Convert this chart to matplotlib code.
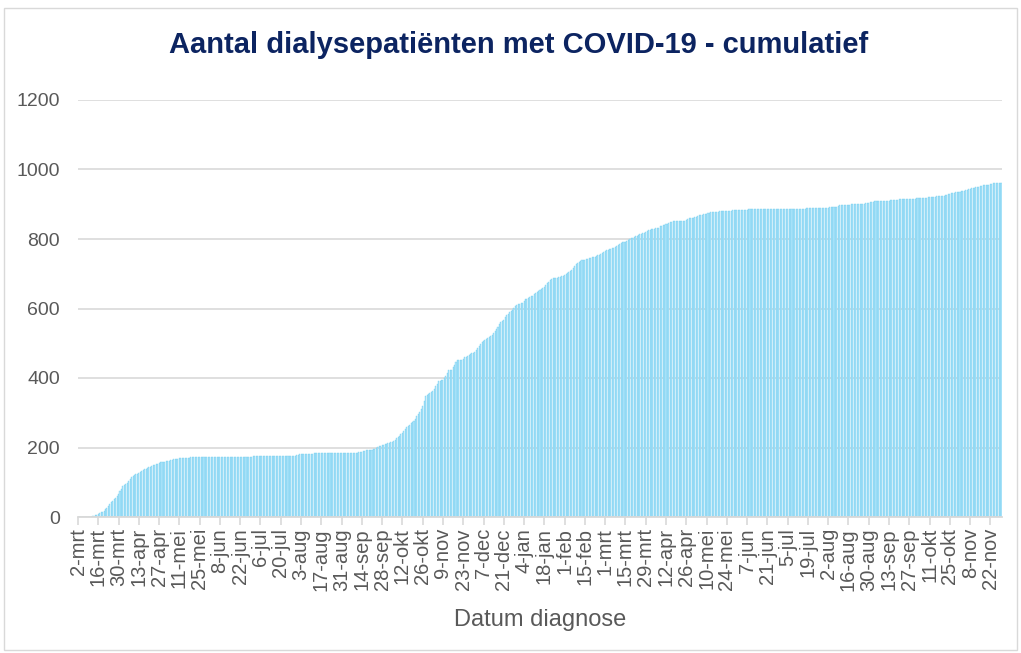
import matplotlib
matplotlib.use("Agg")
import matplotlib.pyplot as plt
import numpy as np
from matplotlib.patches import Rectangle

plt.rcParams['font.family'] = ['Liberation Sans', 'DejaVu Sans']

title = "Aantal dialysepatiënten met COVID-19 - cumulatief"
x_title = "Datum diagnose"
start_date = "2020-03-02"

# cumulative number of patients per day (2-mrt-2020 .. 30-nov-2021), one row per 14 days
cumulative = [
    0, 0, 0, 0, 0, 0, 1, 1, 1, 1, 2, 3, 5, 7,
    9, 11, 13, 15, 18, 22, 27, 32, 37, 42, 46, 51, 56, 61,
    66, 74, 81, 89, 93, 96, 99, 104, 109, 114, 119, 121, 123, 125,
    127, 130, 132, 135, 137, 139, 141, 143, 145, 147, 149, 150, 152, 153,
    155, 157, 158, 159, 159, 160, 161, 162, 163, 164, 166, 167, 168, 168,
    169, 169, 170, 170, 170, 171, 171, 171, 172, 172, 172, 173, 173, 173,
    174, 174, 174, 174, 174, 174, 174, 174, 174, 174, 174, 174, 174, 174,
    174, 174, 174, 174, 174, 174, 174, 174, 174, 174, 174, 174, 174, 174,
    174, 174, 174, 174, 174, 174, 174, 174, 174, 175, 175, 175, 175, 175,
    175, 175, 175, 175, 175, 175, 175, 175, 175, 175, 175, 175, 175, 175,
    175, 175, 175, 175, 175, 175, 175, 175, 175, 175, 176, 177, 179, 180,
    180, 180, 181, 181, 181, 182, 182, 182, 182, 183, 183, 183, 183, 183,
    183, 183, 183, 183, 183, 183, 183, 184, 184, 184, 184, 184, 184, 184,
    184, 184, 184, 184, 184, 185, 185, 185, 185, 185, 185, 185, 186, 186,
    188, 190, 191, 192, 193, 193, 193, 194, 195, 197, 199, 201, 203, 205,
    206, 208, 209, 210, 212, 213, 215, 217, 220, 222, 226, 229, 234, 238,
    242, 248, 254, 260, 263, 266, 270, 274, 277, 283, 290, 296, 303, 310,
    318, 333, 347, 351, 355, 358, 360, 362, 369, 376, 383, 390, 392, 394,
    395, 401, 407, 415, 422, 423, 424, 431, 438, 445, 451, 452, 453, 453,
    456, 459, 461, 464, 467, 469, 471, 472, 476, 482, 486, 491, 497, 503,
    506, 509, 511, 515, 518, 521, 525, 530, 536, 541, 548, 554, 560, 565,
    568, 575, 580, 585, 589, 593, 597, 602, 606, 609, 612, 614, 615, 616,
    621, 626, 628, 630, 632, 635, 637, 641, 645, 648, 650, 652, 655, 659,
    663, 667, 672, 677, 681, 684, 687, 689, 689, 689, 690, 691, 693, 694,
    696, 699, 702, 706, 709, 711, 716, 722, 727, 732, 735, 738, 740, 741,
    741, 742, 743, 744, 745, 747, 748, 749, 751, 753, 755, 757, 759, 762,
    766, 767, 768, 770, 772, 773, 775, 776, 779, 783, 786, 788, 790, 792,
    792, 794, 797, 799, 802, 804, 806, 808, 810, 811, 813, 814, 816, 818,
    821, 823, 826, 827, 828, 829, 830, 831, 832, 833, 836, 838, 840, 841,
    842, 843, 845, 848, 850, 851, 852, 853, 853, 853, 853, 853, 853, 853,
    855, 858, 859, 860, 860, 861, 862, 864, 867, 868, 869, 870, 871, 872,
    873, 875, 876, 877, 877, 878, 878, 878, 878, 880, 881, 882, 882, 882,
    882, 882, 882, 882, 883, 883, 883, 883, 883, 884, 884, 884, 884, 884,
    884, 885, 885, 885, 885, 885, 885, 885, 885, 885, 885, 885, 885, 886,
    886, 886, 886, 886, 886, 886, 886, 886, 886, 886, 886, 886, 886, 886,
    886, 886, 886, 886, 886, 886, 886, 886, 886, 886, 886, 886, 887, 888,
    888, 888, 888, 888, 888, 888, 888, 889, 889, 889, 889, 889, 889, 889,
    890, 891, 892, 892, 892, 892, 893, 896, 897, 898, 898, 898, 898, 898,
    898, 899, 900, 901, 901, 901, 901, 901, 901, 901, 901, 902, 903, 904,
    905, 906, 906, 907, 908, 909, 909, 909, 909, 909, 909, 909, 909, 910,
    910, 911, 911, 912, 913, 913, 913, 914, 914, 915, 915, 915, 915, 915,
    915, 915, 916, 916, 916, 917, 917, 918, 918, 918, 919, 919, 919, 920,
    920, 920, 921, 921, 922, 923, 924, 924, 924, 924, 925, 927, 928, 929,
    930, 931, 932, 933, 934, 935, 935, 936, 937, 938, 939, 940, 942, 943,
    944, 946, 947, 948, 949, 950, 951, 952, 953, 954, 954, 955, 955, 955,
    957, 959, 960, 960, 960, 960, 961, 961, 961,
]

tick_labels = ['2-mrt', '16-mrt', '30-mrt', '13-apr', '27-apr', '11-mei', '25-mei',
               '8-jun', '22-jun', '6-jul', '20-jul', '3-aug', '17-aug', '31-aug',
               '14-sep', '28-sep', '12-okt', '26-okt', '9-nov', '23-nov', '7-dec',
               '21-dec', '4-jan', '18-jan', '1-feb', '15-feb', '1-mrt', '15-mrt',
               '29-mrt', '12-apr', '26-apr', '10-mei', '24-mei', '7-jun', '21-jun',
               '5-jul', '19-jul', '2-aug', '16-aug', '30-aug', '13-sep', '27-sep',
               '11-okt', '25-okt', '8-nov', '22-nov']
tick_step = 14
y_ticks = [0, 200, 400, 600, 800, 1000, 1200]

W, H = 1021, 653
fig = plt.figure(figsize=(W / 100, H / 100), dpi=100)
fig.patch.set_facecolor('white')

# light grey chart border
fig.patches.append(Rectangle((4 / W, 3 / H), 1013 / W, 642 / H, transform=fig.transFigure,
                             fill=False, edgecolor='#d9d9d9', linewidth=1.0))

ax = fig.add_axes([78 / W, 1 - 517 / H, (1002 - 78) / W, (517 - 100) / H])

n = len(cumulative)
x = np.arange(n)
ax.bar(x, cumulative, width=0.7, color='#b3e6fa', edgecolor='#6ccbef', linewidth=0.25, zorder=2)

ax.set_xlim(0, n - 1)
ax.set_ylim(0, 1200)
ax.set_yticks(y_ticks)
ax.set_yticklabels([str(v) for v in y_ticks])
ax.yaxis.grid(True, color='#d9d9d9', linewidth=1.2, zorder=0)
ax.set_axisbelow(True)

ticks = np.arange(0, n, tick_step)[:len(tick_labels)]
ax.set_xticks(ticks)
ax.set_xticklabels(tick_labels, rotation=90, ha='center', va='top')

for s in ['top', 'right', 'left']:
    ax.spines[s].set_visible(False)
ax.spines['bottom'].set_color('#d9d9d9')
ax.spines['bottom'].set_linewidth(1.3)
ax.spines['bottom'].set_zorder(3)

ax.tick_params(axis='y', length=0, pad=13, labelsize=14, labelcolor='#595959')
ax.tick_params(axis='x', length=6, width=1.2, color='#d9d9d9', pad=2,
               labelsize=14.5, labelcolor='#595959')

fig.text(519 / W, 1 - 45 / H, title, ha='center', va='center', fontsize=21,
         fontweight='bold', color='#0c2461')
fig.text(540 / W, 1 - 620 / H, x_title, ha='center', va='center', fontsize=17,
         color='#595959')

fig.savefig('out.png', dpi=100, facecolor='white')
